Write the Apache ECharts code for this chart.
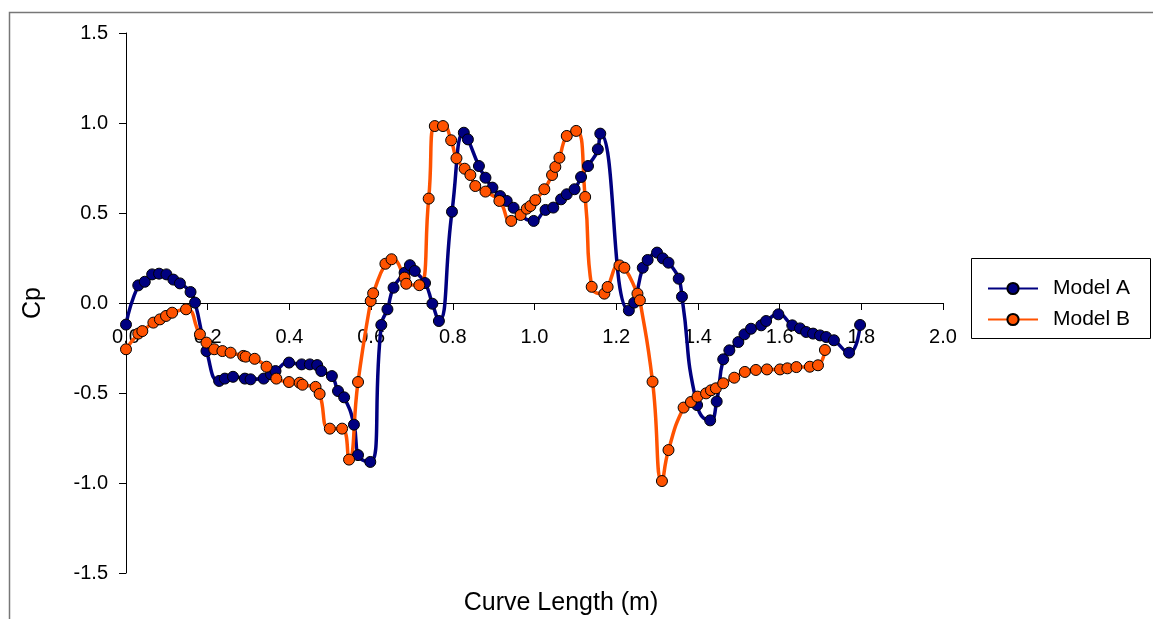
<!DOCTYPE html>
<html>
<head>
<meta charset="utf-8">
<script src="https://cdn.jsdelivr.net/npm/echarts@6/dist/echarts.min.js"></script>
<style>
  html, body { margin: 0; padding: 0; background: #fff; }
  #chart { width: 1153px; height: 619px; }
</style>
</head>
<body>
<div id="chart"></div>
<script>
// Curve length (m) and Cp for each model
var modelAx = [0.000, 0.030, 0.046, 0.064, 0.081, 0.099, 0.116, 0.132, 0.158, 0.169,
  0.197, 0.228, 0.242, 0.262, 0.291, 0.305, 0.337, 0.355, 0.366, 0.399,
  0.430, 0.450, 0.468, 0.478, 0.504, 0.519, 0.534, 0.558, 0.568, 0.598,
  0.625, 0.640, 0.655, 0.682, 0.695, 0.707, 0.732, 0.750, 0.766, 0.798,
  0.827, 0.837, 0.864, 0.880, 0.897, 0.916, 0.932, 0.949, 0.998, 1.027,
  1.046, 1.065, 1.079, 1.098, 1.114, 1.131, 1.155, 1.161, 1.231, 1.244,
  1.265, 1.277, 1.300, 1.314, 1.328, 1.353, 1.361, 1.398, 1.430, 1.446,
  1.462, 1.477, 1.499, 1.514, 1.530, 1.555, 1.567, 1.597, 1.631, 1.650,
  1.665, 1.682, 1.699, 1.714, 1.733, 1.770, 1.797]
var modelAy = [-0.120, 0.098, 0.118, 0.159, 0.163, 0.159, 0.130, 0.109, 0.061, 0.002,
  -0.267, -0.433, -0.420, -0.410, -0.420, -0.424, -0.420, -0.396, -0.378, -0.331,
  -0.341, -0.341, -0.345, -0.378, -0.406, -0.489, -0.524, -0.676, -0.845, -0.883,
  -0.122, -0.035, 0.085, 0.168, 0.210, 0.178, 0.111, -0.004, -0.100, 0.507,
  0.946, 0.909, 0.761, 0.696, 0.641, 0.594, 0.567, 0.529, 0.456, 0.517,
  0.530, 0.576, 0.604, 0.632, 0.700, 0.761, 0.854, 0.941, -0.041, 0.002,
  0.196, 0.239, 0.280, 0.248, 0.224, 0.135, 0.035, -0.567, -0.652, -0.547,
  -0.313, -0.263, -0.217, -0.174, -0.143, -0.124, -0.100, -0.063, -0.124, -0.141,
  -0.161, -0.170, -0.180, -0.189, -0.207, -0.276, -0.122]

var modelBx = [0.000, 0.030, 0.040, 0.067, 0.083, 0.098, 0.113, 0.147, 0.181, 0.197,
  0.216, 0.236, 0.256, 0.287, 0.293, 0.315, 0.344, 0.368, 0.399, 0.425,
  0.432, 0.464, 0.474, 0.499, 0.529, 0.546, 0.568, 0.599, 0.605, 0.635,
  0.650, 0.682, 0.686, 0.718, 0.741, 0.756, 0.776, 0.796, 0.809, 0.829,
  0.843, 0.855, 0.880, 0.914, 0.943, 0.966, 0.981, 0.990, 1.002, 1.024,
  1.043, 1.051, 1.061, 1.079, 1.102, 1.124, 1.140, 1.171, 1.179, 1.208,
  1.220, 1.252, 1.258, 1.289, 1.312, 1.328, 1.365, 1.383, 1.399, 1.420,
  1.432, 1.444, 1.462, 1.489, 1.515, 1.542, 1.569, 1.601, 1.619, 1.641,
  1.674, 1.694, 1.711]
var modelBy = [-0.257, -0.170, -0.156, -0.109, -0.091, -0.072, -0.054, -0.035, -0.174, -0.220,
  -0.257, -0.267, -0.276, -0.294, -0.298, -0.310, -0.354, -0.420, -0.439, -0.443,
  -0.454, -0.466, -0.505, -0.698, -0.698, -0.870, -0.439, 0.011, 0.054, 0.218,
  0.243, 0.141, 0.107, 0.099, 0.580, 0.983, 0.983, 0.904, 0.804, 0.746,
  0.711, 0.650, 0.619, 0.567, 0.456, 0.489, 0.524, 0.539, 0.572, 0.632,
  0.711, 0.756, 0.807, 0.928, 0.956, 0.589, 0.090, 0.052, 0.089, 0.209,
  0.196, 0.052, 0.015, -0.437, -0.989, -0.817, -0.581, -0.550, -0.520, -0.502,
  -0.485, -0.474, -0.446, -0.415, -0.383, -0.372, -0.369, -0.369, -0.363, -0.356,
  -0.354, -0.346, -0.261]

var seriesNames = ['Model A', 'Model B']
var seriesColors = ['#000080', '#ff5200']

function zip (xs, ys) {
  return xs.map(function (x, i) { return [x, ys[i]] })
}

var font = 'Liberation Sans, Arial, sans-serif'
var chart = echarts.init(document.getElementById('chart'), null, { renderer: 'canvas' })

function lineSeries (i, data) {
  return {
    name: seriesNames[i],
    type: 'line',
    data: data,
    smooth: 0.55,
    symbol: 'circle',
    symbolSize: 11,
    lineStyle: { color: seriesColors[i], width: 3.5 },
    itemStyle: { color: seriesColors[i], borderColor: '#000', borderWidth: 1 }
  }
}

// x axis sits on Cp = 0 (middle of the 540px plot)
var option = {
  animation: false,
  grid: { left: 126, right: 210, top: 33, bottom: 46 },
  xAxis: {
    type: 'value',
    min: 0,
    max: 2,
    interval: 0.2,
    offset: -270,
    axisLine: { onZero: false, lineStyle: { color: '#000', width: 1 } },
    axisTick: { show: true, length: 7, lineStyle: { color: '#000' } },
    axisLabel: {
      margin: 24, color: '#000', fontFamily: font, fontSize: 20,
      formatter: function (v) { return v.toFixed(1) }
    },
    splitLine: { show: false }
  },
  yAxis: {
    type: 'value',
    min: -1.5,
    max: 1.5,
    interval: 0.5,
    axisLine: { show: true, lineStyle: { color: '#000', width: 1 } },
    axisTick: { show: true, length: 7, lineStyle: { color: '#000' } },
    axisLabel: {
      margin: 18, color: '#000', fontFamily: font, fontSize: 20,
      formatter: function (v) { return v.toFixed(1) }
    },
    splitLine: { show: false }
  },
  legend: {
    orient: 'vertical',
    left: 987,
    top: 278,
    padding: 0,
    itemWidth: 50,
    itemHeight: 14,
    itemGap: 10,
    data: seriesNames,
    textStyle: { color: '#000', fontFamily: font, fontSize: 21, padding: [0, 0, 0, 10] }
  },
  graphic: [
    {
      type: 'rect', silent: true, z: -1,
      shape: { x: 9.5, y: 12.5, width: 1160, height: 640 },
      style: { fill: 'none', stroke: '#777', lineWidth: 1.5 }
    },
    {
      type: 'rect', silent: true,
      shape: { x: 971.5, y: 258.5, width: 179, height: 80 },
      style: { fill: '#fff', stroke: '#000', lineWidth: 1 },
      z: 0
    },
    {
      type: 'text', silent: true,
      x: 561, y: 603,
      style: { text: 'Curve Length (m)', fill: '#000', font: '25px ' + font, align: 'center', verticalAlign: 'middle' }
    },
    {
      type: 'text', silent: true,
      x: 33, y: 303, rotation: Math.PI / 2,
      style: { text: 'Cp', fill: '#000', font: '25px ' + font, align: 'center', verticalAlign: 'middle' }
    }
  ],
  series: [
    lineSeries(0, zip(modelAx, modelAy)),
    lineSeries(1, zip(modelBx, modelBy))
  ]
}

chart.setOption(option)
</script>
</body>
</html>
